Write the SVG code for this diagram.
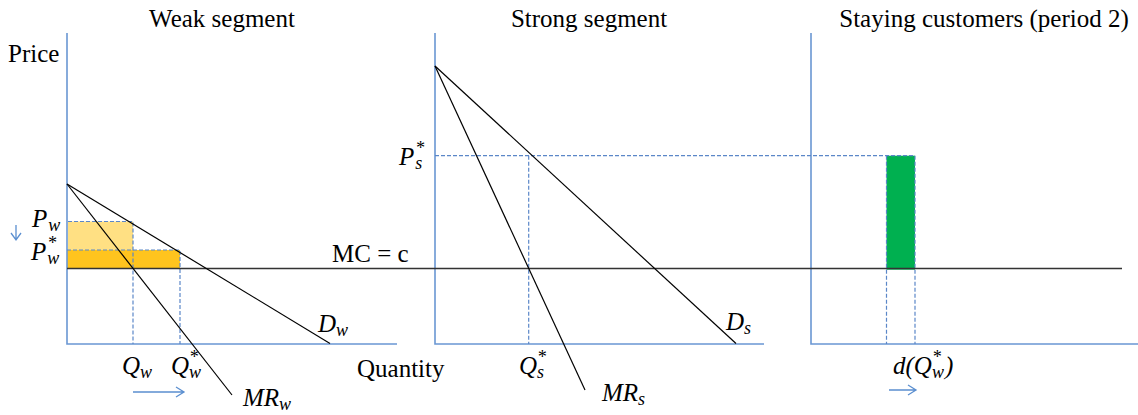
<svg xmlns="http://www.w3.org/2000/svg" width="1138" height="415" viewBox="0 0 1138 415">
<defs>
<style>
.ax{stroke:#6A97D3;stroke-width:1.6;fill:none}
.ln{stroke:#000;stroke-width:1.2;fill:none}
.mc{stroke:#333;stroke-width:1.5;fill:none}
.dash{stroke:#5B87C8;stroke-width:1.2;stroke-dasharray:4 2;fill:none}
.arr{stroke:#5B8FD0;stroke-width:1.3;fill:none}
text{font-family:'Liberation Serif','DejaVu Serif',serif;fill:#000}
.t{font-size:25px}
.m{font-style:italic;font-size:25px}
.sub{font-size:18px}
</style>
</defs>
<rect width="1138" height="415" fill="#fff"/>
<g id="fills">
<rect x="68" y="221.5" width="65" height="29" fill="#FFE083"/>
<rect x="67" y="250" width="113" height="18.5" fill="#FFC41E"/>
<rect x="886.5" y="155.7" width="28.5" height="114" fill="#00B050"/>
</g>
<g id="axes">
<path class="ax" d="M67,33 V344 H397"/>
<path class="ax" d="M435,33 V344 H764"/>
<path class="ax" d="M811,33 V344 H1138"/>
</g>
<g id="connectors">
<path class="dash" d="M68,221.5 H133 V344"/>
<path class="dash" d="M67,250 H180 V344"/>
<path class="dash" d="M435,155.7 H915 V344"/>
<path class="dash" d="M528.7,155.7 V344"/>
<path class="dash" d="M886.5,155.7 V344"/>
<path class="mc" d="M67,268.5 H1122"/>
<path class="ln" d="M67,184 L330,343.5"/>
<path class="ln" d="M67,184 L232,395"/>
<path class="ln" d="M435,66 L736,343.5"/>
<path class="ln" d="M435,66 L585,390"/>
<path class="arr" d="M16,225 V240 M11,233 L16,240 L21,233"/>
<path class="arr" d="M133,392 H184 M176,387 L184,392 L176,397"/>
<path class="arr" d="M889,390 H916 M908,385 L916,390 L908,395"/>
</g>
<g id="titles">
<text class="t" x="222" y="27" text-anchor="middle">Weak segment</text>
<text class="t" x="589" y="27" text-anchor="middle">Strong segment</text>
<text class="t" x="984" y="27" text-anchor="middle">Staying customers (period 2)</text>
<text class="t" x="8" y="62">Price</text>
<text class="t" x="357" y="377">Quantity</text>
<text class="t" x="332" y="262">MC = c</text>
</g>
<g id="labels">
<text class="m" x="32" y="227">P<tspan class="sub" dx="1" dy="4">w</tspan></text>
<text class="m" x="31" y="260">P<tspan class="sub" dx="1" dy="-11">*</tspan><tspan class="sub" dx="-9" dy="15">w</tspan></text>
<text class="m" x="122" y="374">Q<tspan class="sub" dy="4">w</tspan></text>
<text class="m" x="171" y="374">Q<tspan class="sub" dy="-11">*</tspan><tspan class="sub" dx="-9" dy="15">w</tspan></text>
<text class="m" x="243" y="406">MR<tspan class="sub" dy="4">w</tspan></text>
<text class="m" x="318" y="332">D<tspan class="sub" dy="4">w</tspan></text>
<text class="m" x="399" y="165">P<tspan class="sub" dx="1" dy="-11">*</tspan><tspan class="sub" dx="-9" dy="15">s</tspan></text>
<text class="m" x="519" y="374">Q<tspan class="sub" dy="-11">*</tspan><tspan class="sub" dx="-9" dy="15">s</tspan></text>
<text class="m" x="602" y="401">MR<tspan class="sub" dy="4">s</tspan></text>
<text class="m" x="726" y="330">D<tspan class="sub" dy="4">s</tspan></text>
<text class="m" x="893" y="374">d(Q<tspan class="sub" dy="-11">*</tspan><tspan class="sub" dx="-9" dy="15">w</tspan><tspan dx="1" dy="-4">)</tspan></text>
</g>
</svg>
